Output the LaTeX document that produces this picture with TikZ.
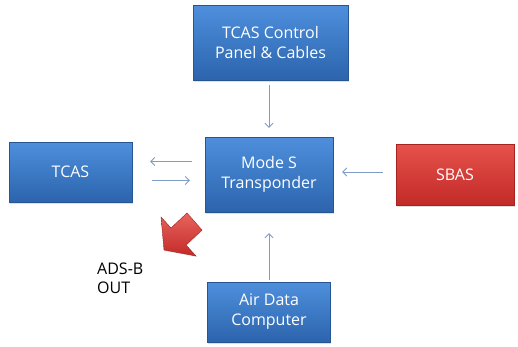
\documentclass[tikz,border=0pt]{standalone}
\usepackage{fontspec}
\setmainfont{Open Sans}
\usetikzlibrary{arrows.meta,shadows}
\definecolor{cBLU}{HTML}{4E8FDC}
\definecolor{cBLUd}{HTML}{2C64AD}
\definecolor{cRED}{HTML}{E6524B}
\definecolor{cREDd}{HTML}{C22A28}
\definecolor{cLNK}{HTML}{7E9CC7}

\begin{document}
\begin{tikzpicture}[x=1pt, y=-1pt, font=\fontsize{16}{20}\selectfont, >={Straight Barb[length=4pt,width=8pt]},
  unit/.style={draw=cBLUd!85!black, top color=cBLU, bottom color=cBLUd, text=white, align=center, inner sep=0pt,
    drop shadow={opacity=0.25, shadow xshift=0.5pt, shadow yshift=-1.5pt}},
  ext/.style={unit, draw=cREDd!85!black, top color=cRED, bottom color=cREDd},
  link/.style={->, draw=cLNK, line width=0.8pt}]
\useasboundingbox (0,0) rectangle (518,346);
% boxes
\node[unit, minimum width=155, minimum height=75] (panel) at (270.5,42.5) {TCAS Control\\Panel \& Cables};
\node[unit, minimum width=128, minimum height=75] (modes) at (269,174.5) {Mode S\\Transponder};
\node[unit, minimum width=123, minimum height=60] (tcas) at (70.5,172) {TCAS};
\node[ext, minimum width=118, minimum height=61] (sbas) at (455,174.5) {SBAS};
\node[unit, minimum width=123, minimum height=60] (adc) at (269,312) {Air Data\\Computer};
% links into the transponder
\draw[link, shorten <=5pt, shorten >=9pt] (modes.north |- panel.south) -- (modes.north);
\draw[link, shorten <=2pt, shorten >=21pt] (adc.north) -- (adc.north |- modes.south);
\draw[link, shorten <=13pt, shorten >=9pt] ([yshift=2.5pt]sbas.west) -- ([yshift=2.5pt]modes.east);
\draw[link, shorten <=13pt, shorten >=18pt] ([yshift=13pt]modes.west) -- ([yshift=13pt]modes.west -| tcas.east);
\draw[link, shorten <=20pt, shorten >=15pt] ([yshift=-6pt]modes.west -| tcas.east) -- ([yshift=-6pt]modes.west);
% ADS-B out
\draw[draw=cREDd!80!black, top color=cRED!90!white, bottom color=cREDd, drop shadow={opacity=0.2, shadow xshift=0.5pt, shadow yshift=-1pt}]
  (164,250) -- (161,217) -- (171,228) -- (187,213) -- (202,230) -- (186,245) -- (196,256) -- cycle;
\node[align=left, anchor=north west, inner sep=0pt, font=\fontsize{16}{19}\selectfont] (adsb) at (97,263) {ADS-B\\OUT};
\end{tikzpicture}
\end{document}
